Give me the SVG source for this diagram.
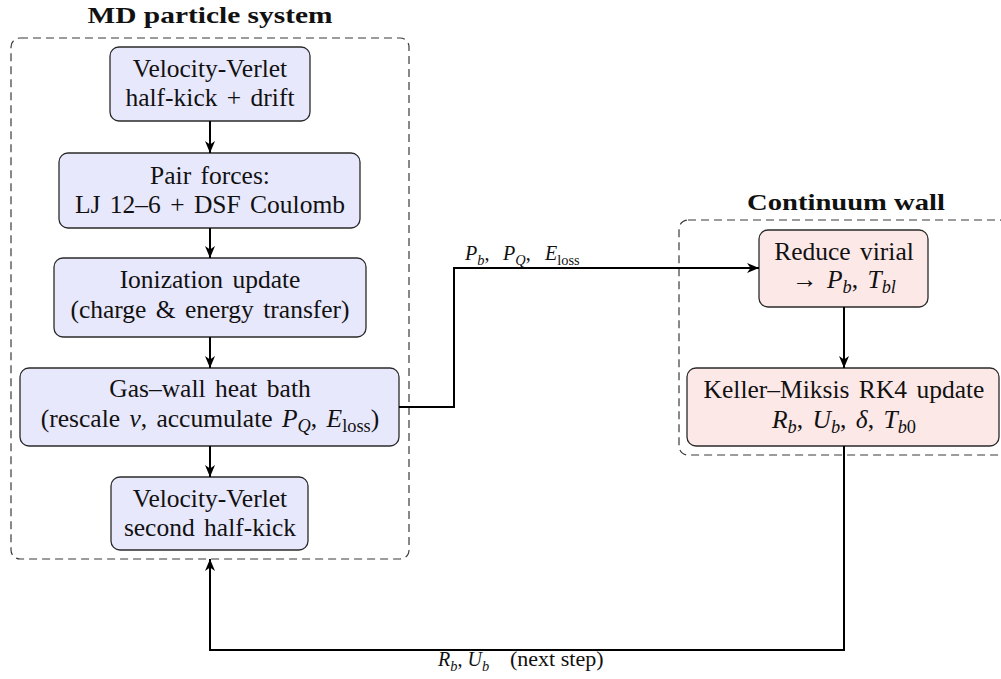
<svg xmlns="http://www.w3.org/2000/svg" width="1001" height="679" viewBox="0 0 1001 679">
<style>
.t{font-family:"Liberation Serif","Times New Roman",serif;font-size:25.5px;fill:#111;text-anchor:middle;word-spacing:3px}
.title{font-family:"Liberation Serif","Times New Roman",serif;font-size:23px;font-weight:bold;fill:#111;text-anchor:middle}
.lbl{font-family:"Liberation Serif","Times New Roman",serif;font-size:20px;fill:#111}
.i{font-style:italic}
.s{font-size:72%}
.blue{fill:#E8E8FD;stroke:#2a2a2a;stroke-width:1.3}
.pink{fill:#FDE8E8;stroke:#2a2a2a;stroke-width:1.3}
.grp{fill:none;stroke:#3a3a3a;stroke-width:1.2;stroke-dasharray:8 5}
.edge{fill:none;stroke:#000;stroke-width:2;marker-end:url(#ah)}
</style>
<defs>
<marker id="ah" markerUnits="userSpaceOnUse" markerWidth="14" markerHeight="12" refX="12" refY="6" orient="auto">
<path d="M0,1 L12,6 L0,11 L3.5,6 z" fill="#000"/>
</marker>
</defs>
<rect width="1001" height="679" fill="#fff"/>
<g id="group-md">
<rect class="grp" x="11" y="38" width="398" height="521" rx="9"/>
<text class="title" x="210" y="23" textLength="245" lengthAdjust="spacingAndGlyphs">MD particle system</text>
</g>
<g id="group-wall">
<rect class="grp" x="679" y="220" width="330" height="235" rx="9"/>
<text class="title" x="846" y="210" textLength="198" lengthAdjust="spacingAndGlyphs">Continuum wall</text>
</g>
<g id="n1">
<rect class="blue" x="110" y="47" width="200" height="74" rx="9"/>
<text class="t" x="210" y="77">Velocity-Verlet</text>
<text class="t" x="210" y="106">half-kick + drift</text>
</g>
<g id="n2">
<rect class="blue" x="59" y="153" width="301" height="75" rx="9"/>
<text class="t" x="210" y="184">Pair forces:</text>
<text class="t" x="210" y="213">LJ 12–6 + DSF Coulomb</text>
</g>
<g id="n3">
<rect class="blue" x="54" y="258" width="312" height="79" rx="9"/>
<text class="t" x="210" y="288">Ionization update</text>
<text class="t" x="210" y="318">(charge &amp; energy transfer)</text>
</g>
<g id="n4">
<rect class="blue" x="20" y="368" width="379" height="78" rx="9"/>
<text class="t" x="210" y="397">Gas–wall heat bath</text>
<text class="t" x="210" y="427">(rescale <tspan class="i">v</tspan>, accumulate <tspan class="i">P</tspan><tspan class="s i" dy="5">Q</tspan><tspan dy="-5">, </tspan><tspan class="i">E</tspan><tspan class="s" dy="5">loss</tspan><tspan dy="-5">)</tspan></text>
</g>
<g id="n5">
<rect class="blue" x="111" y="477" width="197" height="73" rx="9"/>
<text class="t" x="210" y="507">Velocity-Verlet</text>
<text class="t" x="210" y="536">second half-kick</text>
</g>
<g id="n6">
<rect class="pink" x="759" y="230" width="169" height="77" rx="9"/>
<text class="t" x="844" y="260">Reduce virial</text>
<text class="t" x="844" y="288">→ <tspan class="i">P</tspan><tspan class="s i" dy="5">b</tspan><tspan dy="-5">, </tspan><tspan class="i">T</tspan><tspan class="s i" dy="5">bl</tspan></text>
</g>
<g id="n7">
<rect class="pink" x="687" y="368" width="312" height="78" rx="9"/>
<text class="t" x="844" y="398">Keller–Miksis RK4 update</text>
<text class="t" x="844" y="428"><tspan class="i">R</tspan><tspan class="s i" dy="5">b</tspan><tspan dy="-5">, </tspan><tspan class="i">U</tspan><tspan class="s i" dy="5">b</tspan><tspan dy="-5">, </tspan><tspan class="i">δ</tspan>, <tspan class="i">T</tspan><tspan class="s" dy="5"><tspan class="i">b</tspan>0</tspan></text>
</g>
<g id="connectors">
<line class="edge" x1="210" y1="121" x2="210" y2="153"/>
<line class="edge" x1="210" y1="228" x2="210" y2="258"/>
<line class="edge" x1="210" y1="337" x2="210" y2="368"/>
<line class="edge" x1="210" y1="446" x2="210" y2="477"/>
<line class="edge" x1="844" y1="307" x2="844" y2="368"/>
<polyline class="edge" points="399,407 454,407 454,268 759,268"/>
<polyline class="edge" points="844,446 844,650 210,650 210,559"/>
<text class="lbl" y="260"><tspan x="465" class="i">P</tspan><tspan class="s i" dy="5">b</tspan><tspan dy="-5">,</tspan><tspan x="503" class="i">P</tspan><tspan class="s i" dy="5">Q</tspan><tspan dy="-5">,</tspan><tspan x="545" class="i">E</tspan><tspan class="s" dy="5" font-size="16">loss</tspan></text>
<text class="lbl" y="666"><tspan x="438" class="i">R</tspan><tspan class="s i" dy="5">b</tspan><tspan dy="-5">, </tspan><tspan class="i">U</tspan><tspan class="s i" dy="5">b</tspan><tspan x="510" dy="-5" font-size="22">(next step)</tspan></text>
</g>
</svg>
